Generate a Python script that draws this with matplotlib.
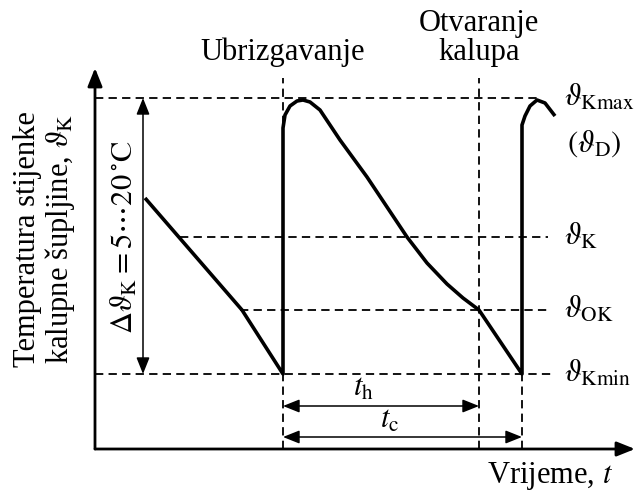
import matplotlib.pyplot as plt

plt.rcParams['font.family'] = ['Liberation Serif', 'DejaVu Serif']
plt.rcParams['mathtext.fontset'] = 'stix'

# levels (temperature, arbitrary units) and times (arbitrary units)
th_kmax, th_k, th_ok, th_kmin = 351, 212, 139, 75
t_inj, t_open, t_end = 188, 384, 427
t_start = 50

# wall temperature curve
curve_t = [50, 147, 188, 188, 190, 195, 202, 208, 215, 225, 245, 272, 292,
           312, 332, 352, 368, 384, 427, 427, 430, 435, 442, 450, 460]
curve_th = [251, 139, 75, 321, 334, 343, 348, 349, 347, 339, 309, 272, 242,
            212, 186, 165, 151, 139, 75, 324, 333, 343, 349, 346, 333]

fig = plt.figure(figsize=(6.36, 4.97), dpi=100)
ax = fig.add_axes([0, 0, 1, 1])
ax.set_xlim(-95, 541)
ax.set_ylim(-48, 449)
ax.axis('off')

dash = dict(color='black', lw=1.3, linestyle=(0, (4.6, 2.9)))

# horizontal reference levels
ax.plot([0, 442], [th_kmax, th_kmax], **dash)
ax.plot([85, 453], [th_k, th_k], **dash)
ax.plot([145, 453], [th_ok, th_ok], **dash)
ax.plot([0, 458], [th_kmin, th_kmin], **dash)

# vertical markers
ax.plot([t_inj, t_inj], [0, 371], **dash)
ax.plot([t_open, t_open], [0, 371], **dash)
ax.plot([t_end, t_end], [0, th_kmin], **dash)

# curve
ax.plot(curve_t, curve_th, color='black', lw=2.6, solid_joinstyle='round',
        solid_capstyle='butt')


def arrow(p0, p1, style, lw, hl, hw):
    ax.annotate('', xy=p1, xytext=p0,
                arrowprops=dict(arrowstyle=f'{style},head_length={hl},head_width={hw}',
                                lw=lw, color='black', shrinkA=0, shrinkB=0,
                                mutation_scale=20))


# axes
arrow((0, 0), (0, 381), '-|>', 2.0, 0.55, 0.22)
arrow((0, 0), (540, 0), '-|>', 2.0, 0.55, 0.22)

# delta arrow and times
arrow((t_start - 2, th_kmin), (t_start - 2, th_kmax), '<|-|>', 1.1, 0.5, 0.2)
arrow((t_inj, 43), (t_open, 43), '<|-|>', 1.1, 0.5, 0.2)
arrow((t_inj, 12), (t_end, 12), '<|-|>', 1.1, 0.5, 0.2)

fs = 22
ax.text(258, 53, r'$t_{\mathrm{h}}$', fontsize=fs, ha='left', va='baseline')
ax.text(285, 21, r'$t_{\mathrm{c}}$', fontsize=fs, ha='left', va='baseline')

ax.text(30, 212, r'$\Delta\vartheta_{\mathrm{K}}=5\cdots20\,^{\circ}\mathrm{C}$',
        fontsize=fs, rotation=90, ha='center', va='center')

ax.text(-50, 210, 'Temperatura stijenke\nkalupne šupljine, $\\vartheta_{\\mathrm{K}}$',
        fontsize=fs, rotation=90, ha='center', va='center', linespacing=1.05,
        multialignment='center')

ax.text(t_inj, 389, 'Ubrizgavanje', fontsize=fs, ha='center', va='baseline')
ax.text(t_open, 418, 'Otvaranje', fontsize=fs, ha='center', va='baseline')
ax.text(t_open, 389, 'kalupa', fontsize=fs, ha='center', va='baseline')
ax.text(392, -34, r'Vrijeme, $t$', fontsize=fs, ha='left', va='baseline')

lx = 469
ax.text(lx, th_kmax, r'$\vartheta_{\mathrm{Kmax}}$', fontsize=fs, ha='left', va='center')
ax.text(lx + 3, th_kmax - 46, r'$(\vartheta_{\mathrm{D}})$', fontsize=fs, ha='left', va='center')
ax.text(lx, th_k, r'$\vartheta_{\mathrm{K}}$', fontsize=fs, ha='left', va='center')
ax.text(lx, th_ok, r'$\vartheta_{\mathrm{OK}}$', fontsize=fs, ha='left', va='center')
ax.text(lx, th_kmin, r'$\vartheta_{\mathrm{Kmin}}$', fontsize=fs, ha='left', va='center')

fig.savefig('out.png', dpi=100)
